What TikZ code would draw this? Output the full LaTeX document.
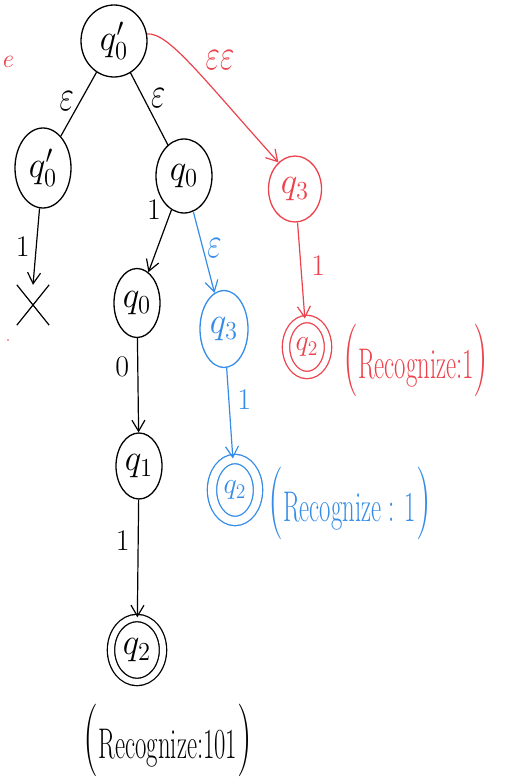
\documentclass[tikz,border=0pt]{standalone}
\usepackage{fontspec}
\usetikzlibrary{shapes.geometric,arrows.meta}
\definecolor{penred}{RGB}{236,66,76}
\definecolor{penblue}{RGB}{52,140,232}
\newcommand{\bigparen}[1]{{\fontsize{44}{48}\selectfont #1}}
\newcommand{\tallnote}[1]{\scalebox{0.95}[1.65]{#1}}
\newcommand{\stlabel}[1]{\scalebox{1.7}[1.8]{$#1$}}
\newcommand{\eps}{\scalebox{1.5}[2.1]{$\varepsilon$}}
\begin{document}
\begin{tikzpicture}[x=1pt,y=-1pt,
  state/.style={ellipse,draw,line width=1.3pt,inner sep=0pt,font=\fontsize{22}{26}\selectfont},
  final/.style={state,double,double distance=#1},
  final/.default=6pt,
  trans/.style={line width=1.2pt,-{Straight Barb[length=11pt,width=13pt,line width=1.2pt]}},
  link/.style={line width=1.2pt},
  lbl/.style={font=\fontsize{22}{26}\selectfont,inner sep=0pt},
  num/.style={font=\fontsize{30}{34}\selectfont,inner sep=0pt},
  note/.style={font=\fontsize{26}{30}\selectfont,inner sep=0pt}]
\useasboundingbox (0,0) rectangle (510,781);

% states of the black branch
\node[state,minimum width=66pt,minimum height=72pt] (top) at (114,41) {\stlabel{q_0'}};
\node[state,minimum width=56pt,minimum height=80pt] (lq) at (43,168) {\stlabel{q_0'}};
\node[state,minimum width=56pt,minimum height=74pt] (rq) at (184,176) {\stlabel{q_0}};
\node[state,minimum width=46pt,minimum height=69pt] (mq) at (137,303) {\stlabel{q_0}};
\node[state,minimum width=46pt,minimum height=66pt] (q1) at (139,466) {\stlabel{q_1}};
\node[final,minimum width=52pt,minimum height=64pt] (bq2) at (137,650) {\stlabel{q_2}};

% the dead end
\node[minimum width=32pt,minimum height=40pt,inner sep=0pt] (dead) at (33,305) {};
\draw[link] (dead.north east) -- (dead.south west);
\draw[link] (dead.north west) -- (dead.south east);

% red branch
\node[state,penred,minimum width=53pt,minimum height=66pt] (rq3) at (295,189) {\stlabel{q_3}};
\node[final,penred,minimum width=42pt,minimum height=56pt] (rq2) at (307,347) {\scalebox{0.8}{\stlabel{q_2}}};

% blue branch
\node[state,penblue,minimum width=48pt,minimum height=77pt] (bq3) at (224,329) {\stlabel{q_3}};
\node[final=8pt,penblue,minimum width=46pt,minimum height=62pt] (uq2) at (235,490) {\scalebox{0.8}{\stlabel{q_2}}};

% epsilon links from the root
\draw[link] (top) -- (lq) node[lbl,pos=0.45,left=6pt] {\eps};
\draw[link] (top) -- (rq) node[lbl,pos=0.35,right=7pt] {\eps};

% black transitions
\draw[trans] (lq) -- (dead.north) node[num,midway,left=6pt] {1};
\draw[trans] (rq) -- (mq) node[num,pos=0.0,left=10pt] {1};
\draw[trans] (mq) -- (q1) node[num,pos=0.3,left=8pt] {0};
\draw[trans] (q1) -- (bq2) node[num,pos=0.35,left=8pt] {1};

% blue transitions
\draw[trans,penblue] (rq) -- (bq3) node[lbl,pos=0.45,right=4pt] {\eps};
\draw[trans,penblue] (bq3) -- (uq2) node[num,pos=0.35,right=8pt] {1};

% red transitions
\draw[trans,penred] (top.12) .. controls (168,32) and (200,75) .. (rq3.122);
\node[lbl,penred] (ee) at (220,60) {\eps\eps};
\draw[trans,penred] (rq3) -- (rq2) node[num,pos=0.45,right=10pt] {1};

% results
\node[note,penred,anchor=west] (rnote) at (343,360) {\tallnote{\bigparen{(}Recognize:1\bigparen{)}}};
\node[note,penblue,anchor=west] (bnote) at (268,503) {\tallnote{\bigparen{(}Recognize : 1\bigparen{)}}};
\node[note,anchor=center] (knote) at (168,740) {\tallnote{\bigparen{(}Recognize:101\bigparen{)}}};

% stray red marks
\node[penred,font=\fontsize{26}{30}\selectfont\itshape,inner sep=0pt,anchor=west] (mark) at (1,62) {e};
\fill[penred] (8,340) circle (0.8pt);
\end{tikzpicture}
\end{document}
